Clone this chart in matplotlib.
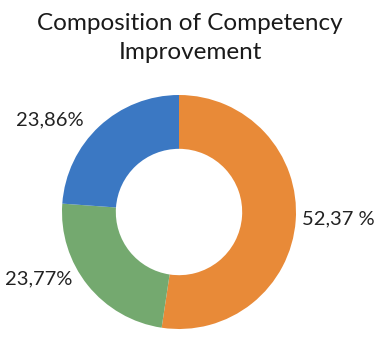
import matplotlib
matplotlib.use("Agg")
import matplotlib.pyplot as plt

categories = ["Category A", "Category B", "Category C"]
values = [52.37, 23.77, 23.86]
label_texts = ["52,37 %", "23,77%", "23,86%"]
colors = ["#E88A38", "#74A96F", "#3B78C3"]
title = "Composition of Competency\nImprovement"

# label placement (in units of the outer radius)
label_xy = [(1.36, -0.06), (-1.20, -0.57), (-1.10, 0.79)]

W, H = 383, 340
fig = plt.figure(figsize=(W / 100, H / 100), dpi=100)
fig.patch.set_facecolor("white")

size = 260
cx, cy = 179, H - 212
ax = fig.add_axes([(cx - size / 2) / W, (cy - size / 2) / H, size / W, size / H])
lim = size / 2 / 117
wedges, texts = ax.pie(values, labels=label_texts, colors=colors, startangle=90,
                       counterclock=False, labeldistance=1.35,
                       wedgeprops=dict(width=0.46, edgecolor="none"),
                       textprops=dict(fontsize=14.5, family="Lato", color="#222222"))
for t, xy in zip(texts, label_xy):
    t.set_position(xy)
    t.set_ha("center")
    t.set_va("center")
ax.set_xlim(-lim, lim)
ax.set_ylim(-lim, lim)
ax.set_aspect("equal")
ax.axis("off")

fig.text(190 / W, 1 - 13 / H, title, ha="center", va="top", fontsize=17.5,
         family="Lato", color="#1a1a1a", linespacing=1.45)

fig.savefig("out.png", dpi=100, facecolor="white")
